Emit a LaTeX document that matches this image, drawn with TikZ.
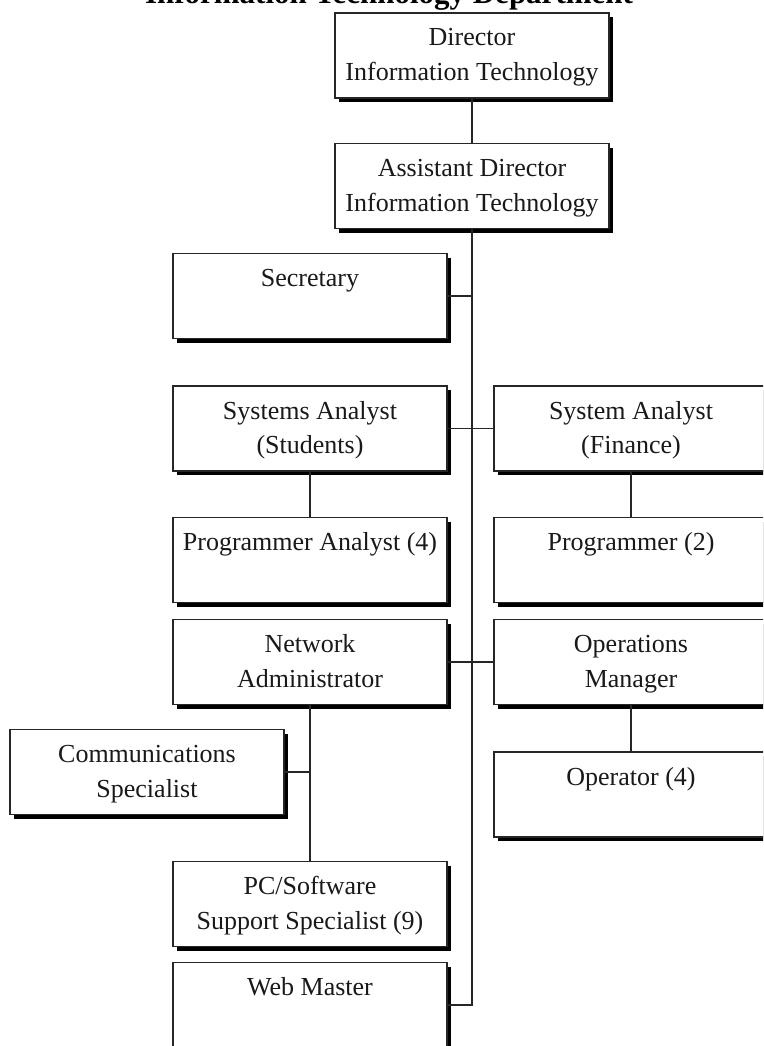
\documentclass[tikz,border=0pt]{standalone}
\usepackage{fontspec}
\setmainfont{Liberation Serif}
\usetikzlibrary{shadows}

\tikzset{
  orgbox/.style={draw=black!85, line width=1.4pt, fill=white,
    minimum width=274pt, minimum height=85pt, inner sep=0pt,
    drop shadow={shadow xshift=4pt, shadow yshift=-4pt, opacity=1, fill=black}},
  boxtext/.style={anchor=base, inner sep=0pt, text=black!90,
    font=\fontsize{26}{35}\selectfont},
  link/.style={draw=black!85, line width=1.4pt},
  titletext/.style={anchor=base, inner sep=0pt,
    font=\fontsize{31}{31}\selectfont\bfseries},
}

% One position in the chart: name, centre x, centre y, first line, second line
\newcommand\orgunit[5]{%
  \node[orgbox] (#1) at (#2,#3) {};
  \path (#1.center) ++(0,-9.5) node[boxtext] (#1-a) {#4};
  \path (#1.center) ++(0,25) node[boxtext] (#1-b) {#5};
}

\begin{document}
\begin{tikzpicture}[x=1pt, y=-1pt]
  \useasboundingbox (0,0) rectangle (763,1046);
  \clip (0,0) rectangle (763,1046);
  \fill[white] (0,0) rectangle (763,1046);

  \node[titletext] (title) at (389,3.5) {Information Technology Department};

  % positions
  \orgunit{dir}{472}{55.5}{Director}{Information Technology}
  \orgunit{ad}{472}{186}{Assistant Director}{Information Technology}
  \orgunit{sec}{310}{296}{Secretary}{}
  \orgunit{sas}{310}{428.5}{Systems Analyst}{(Students)}
  \orgunit{saf}{631}{428.5}{System Analyst}{(Finance)}
  \orgunit{pa}{310}{560}{Programmer Analyst (4)}{}
  \orgunit{prog}{631}{560}{Programmer (2)}{}
  \orgunit{net}{310}{662}{Network}{Administrator}
  \orgunit{ops}{631}{662}{Operations}{Manager}
  \orgunit{comm}{147}{772}{Communications}{Specialist}
  \orgunit{opr}{631}{794.5}{Operator (4)}{}
  \orgunit{pcs}{310}{904}{PC/Software}{Support Specialist (9)}
  \orgunit{web}{310}{1005}{Web Master}{}

  % reporting lines
  \draw[link] (dir.south) -- (ad.north);
  \draw[link] (ad.south) |- (web.east);
  \draw[link] (sec.east) -- (sec.east -| ad.south);
  \draw[link] (sas.east) -- (saf.west);
  \draw[link] (net.east) -- (ops.west);
  \draw[link] (sas.south) -- (pa.north);
  \draw[link] (saf.south) -- (prog.north);
  \draw[link] (ops.south) -- (opr.north);
  \draw[link] (net.south) -- (pcs.north);
  \draw[link] (comm.east) -- (comm.east -| net.south);
\end{tikzpicture}
\end{document}
